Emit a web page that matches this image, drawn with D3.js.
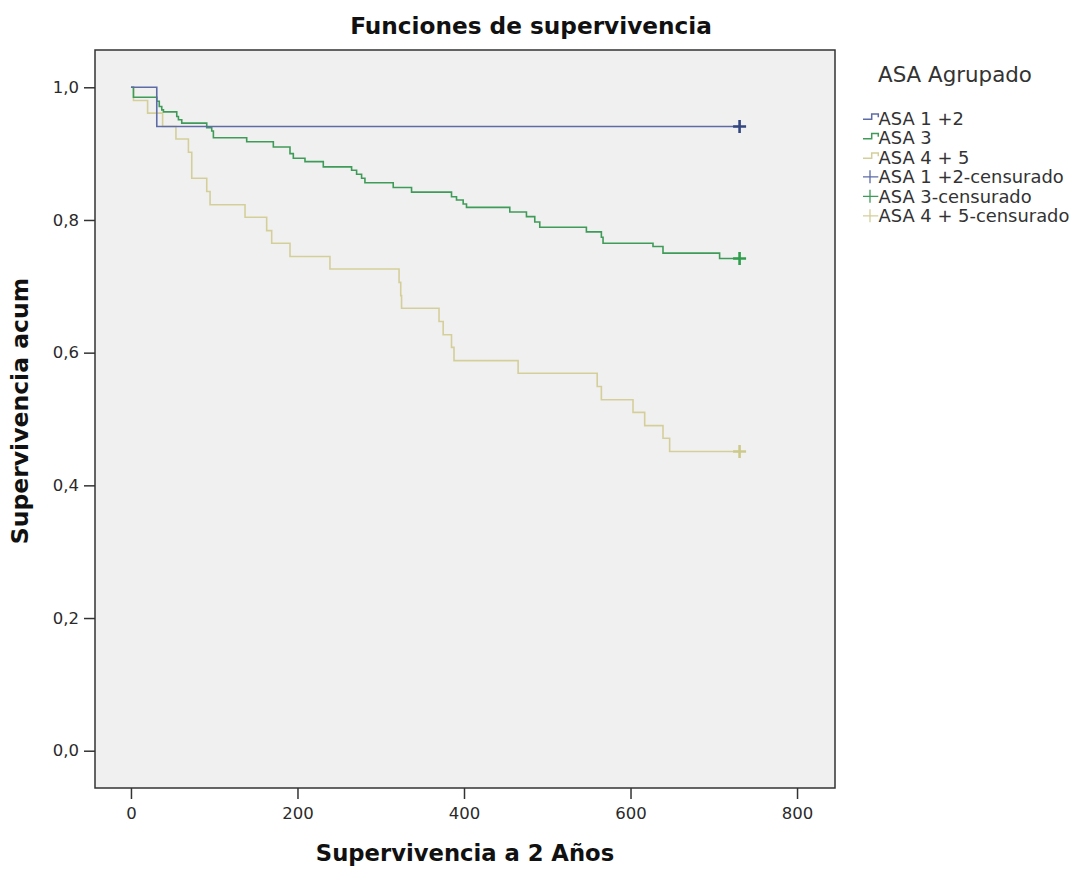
<!DOCTYPE html>
<html lang="es">
<head>
<meta charset="UTF-8">
<title>Funciones de supervivencia</title>
<script src="https://cdn.jsdelivr.net/npm/d3@7/dist/d3.min.js"></script>
<style>
    body { margin: 0; background: #fff; }
    svg { display: block; font-family: "DejaVu Sans", sans-serif; }
    .tick text { font-size: 16.5px; fill: #2a2a2a; }
    .tick line { stroke: #333; stroke-width: 1.5px; }
    .curve { fill: none; stroke-width: 1.6px; }
    .censor { stroke-width: 2.6px; }
</style>
</head>
<body>
<svg id="chart" width="1072" height="869"></svg>
<script>
// Kaplan-Meier steps: day and cumulative survival after each drop
const asa12Days = [0, 31, 731];
const asa12Surv = [1, 0.941, 0.941];

const asa3Days = [0, 3, 31, 34, 37, 39, 55, 57, 61, 91, 97, 99, 139, 171, 191, 195, 209, 231,
    265, 271, 277, 281, 315, 337, 385, 391, 399, 403, 455, 475, 485, 491, 547, 565, 567, 627, 639, 707, 731];
const asa3Surv = [1, 0.985, 0.979, 0.971, 0.966, 0.963, 0.956, 0.951, 0.946, 0.939, 0.934, 0.924, 0.918, 0.910, 0.900, 0.893, 0.888, 0.880,
    0.875, 0.869, 0.863, 0.856, 0.849, 0.842, 0.835, 0.830, 0.824, 0.819, 0.812, 0.805, 0.797, 0.789, 0.782, 0.774, 0.765, 0.760, 0.750, 0.742, 0.742];

const asa45Days = [0, 3, 20, 38, 54, 69, 73, 91, 95, 137, 163, 169, 191, 239, 322, 324, 325,
    370, 375, 385, 388, 465, 560, 565, 603, 617, 639, 647, 731];
const asa45Surv = [1, 0.980, 0.961, 0.941, 0.922, 0.902, 0.863, 0.843, 0.823, 0.804, 0.784, 0.765, 0.745, 0.726, 0.706, 0.686, 0.667,
    0.647, 0.627, 0.608, 0.588, 0.569, 0.549, 0.529, 0.510, 0.490, 0.471, 0.451, 0.451];

// censored cases (end of follow-up)
const censorDays = [731, 731, 731];
const censorSurv = [0.941, 0.742, 0.451];

const groupNames = ["ASA 1 +2", "ASA 3", "ASA 4 + 5"];
const lineColors = ["#5d6ca6", "#3f9b58", "#d4cf9a"];
const markColors = ["#34467f", "#2f9e4c", "#cdc98c"];

const xTicks = [0, 200, 400, 600, 800];
const yTicks = [0, 0.2, 0.4, 0.6, 0.8, 1.0];

const svg = d3.select("#chart");
const frame = { left: 95, top: 50, right: 835, bottom: 788 };

const x = d3.scaleLinear().domain([-43.2, 845.6]).range([frame.left, frame.right]);
const y = d3.scaleLinear().domain([-0.0562, 1.0562]).range([frame.bottom, frame.top]);

// plot background
svg.append("rect")
    .attr("x", frame.left).attr("y", frame.top)
    .attr("width", frame.right - frame.left).attr("height", frame.bottom - frame.top)
    .attr("fill", "#f0f0f0");

// axes
svg.append("g")
    .attr("transform", `translate(0,${frame.bottom})`)
    .call(d3.axisBottom(x).tickValues(xTicks).tickSize(11).tickPadding(8).tickFormat(d3.format("d")))
    .call(g => g.select(".domain").remove());

svg.append("g")
    .attr("transform", `translate(${frame.left},0)`)
    .call(d3.axisLeft(y).tickValues(yTicks).tickSize(11).tickPadding(5)
        .tickFormat(d => d.toFixed(1).replace(".", ",")))
    .call(g => g.select(".domain").remove());

svg.selectAll(".tick text").attr("font-family", "DejaVu Sans");

// curves
const groups = [
    { days: asa12Days, surv: asa12Surv },
    { days: asa3Days, surv: asa3Surv },
    { days: asa45Days, surv: asa45Surv }
];

const line = d3.line()
    .x(d => x(d[0]))
    .y(d => y(d[1]))
    .curve(d3.curveStepAfter);

// draw in reverse so the blue curve sits on top like in SPSS
[2, 1, 0].forEach(i => {
    const g = groups[i];
    svg.append("path")
        .attr("class", "curve")
        .attr("stroke", lineColors[i])
        .attr("d", line(g.days.map((d, k) => [d, g.surv[k]])));
});

// censor marks
censorDays.forEach((d, i) => {
    const cx = x(d), cy = y(censorSurv[i]);
    svg.append("path")
        .attr("class", "censor")
        .attr("stroke", markColors[i])
        .attr("d", `M${cx - 6.5},${cy}H${cx + 6.5}M${cx},${cy - 6.5}V${cy + 6.5}`);
});

// frame
svg.append("rect")
    .attr("x", frame.left).attr("y", frame.top)
    .attr("width", frame.right - frame.left).attr("height", frame.bottom - frame.top)
    .attr("fill", "none").attr("stroke", "#333").attr("stroke-width", 1.5);

// titles
svg.append("text")
    .attr("x", 531).attr("y", 34)
    .attr("text-anchor", "middle")
    .attr("font-size", 23.2).attr("font-weight", "bold").attr("fill", "#111")
    .text("Funciones de supervivencia");

svg.append("text")
    .attr("x", 465).attr("y", 861)
    .attr("text-anchor", "middle")
    .attr("font-size", 22.7).attr("font-weight", "bold").attr("fill", "#111")
    .text("Supervivencia a 2 Años");

svg.append("text")
    .attr("transform", "translate(28,411) rotate(-90)")
    .attr("text-anchor", "middle")
    .attr("font-size", 23.5).attr("font-weight", "bold").attr("fill", "#111")
    .text("Supervivencia acum");

// legend
const legend = svg.append("g");
legend.append("text")
    .attr("x", 878).attr("y", 81.5)
    .attr("font-size", 21.4).attr("fill", "#333")
    .text("ASA Agrupado");

const legendLabels = groupNames.concat(groupNames.map(n => n + "-censurado"));
legendLabels.forEach((label, i) => {
    const cy = 118.3 + i * 19.5;
    const k = i % 3;
    if (i < 3) {
        legend.append("path")
            .attr("fill", "none").attr("stroke-width", 1.5)
            .attr("stroke", lineColors[k])
            .attr("d", `M863,${cy + 1}H871.7V${cy - 4.3}H878.3V${cy - 1}`);
    } else {
        legend.append("path")
            .attr("fill", "none").attr("stroke-width", 1.3)
            .attr("stroke", lineColors[k])
            .attr("d", `M863,${cy}H878.3M870,${cy - 6.5}V${cy + 6.5}`);
    }
    legend.append("text")
        .attr("x", 878.5).attr("y", cy + 6.4)
        .attr("font-size", 17.9).attr("fill", "#333")
        .text(label);
});
</script>
</body>
</html>
